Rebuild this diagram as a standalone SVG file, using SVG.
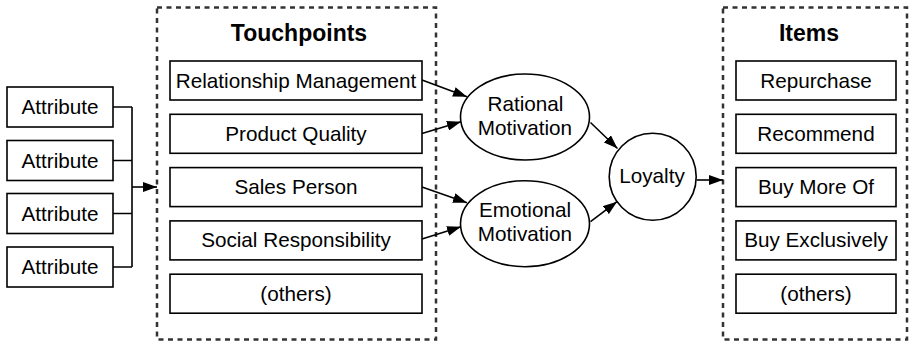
<svg xmlns="http://www.w3.org/2000/svg" width="909" height="344" viewBox="0 0 909 344">
<style>
.box{fill:#fff;stroke:#000;stroke-width:1.6}
.grp{fill:none;stroke:#333;stroke-width:2.5;stroke-dasharray:5 4.5}
.t{font-family:"Liberation Sans",Arial,sans-serif;font-size:20.7px;fill:#000;text-anchor:middle}
.h{font-family:"Liberation Sans",Arial,sans-serif;font-size:23px;font-weight:bold;fill:#000;text-anchor:middle}
.c{fill:none;stroke:#000;stroke-width:1.6}
</style>
<defs>
<marker id="ah" viewBox="0 0 14 10" refX="14" refY="5" markerWidth="14" markerHeight="10" markerUnits="userSpaceOnUse" orient="auto">
<path d="M0,0 L14,5 L0,10 z" fill="#000"/>
</marker>
</defs>
<g id="touchpoints">
<rect class="grp" x="157" y="7.5" width="279" height="332"/>
<text class="h" x="299" y="40.5">Touchpoints</text>
</g>
<g id="items">
<rect class="grp" x="723" y="7.5" width="184" height="332"/>
<text class="h" x="809" y="40.5">Items</text>
</g>
<g id="attr1"><rect class="box" x="7" y="87" width="106" height="40"/><text class="t" x="60" y="114">Attribute</text></g>
<g id="attr2"><rect class="box" x="7" y="140.5" width="106" height="40"/><text class="t" x="60" y="167.5">Attribute</text></g>
<g id="attr3"><rect class="box" x="7" y="193.5" width="106" height="40"/><text class="t" x="60" y="220.5">Attribute</text></g>
<g id="attr4"><rect class="box" x="7" y="247" width="106" height="40"/><text class="t" x="60" y="274">Attribute</text></g>
<g id="tp1"><rect class="box" x="170" y="61" width="252" height="39"/><text class="t" x="296" y="87.5">Relationship Management</text></g>
<g id="tp2"><rect class="box" x="170" y="114.3" width="252" height="39"/><text class="t" x="296" y="140.8">Product Quality</text></g>
<g id="tp3"><rect class="box" x="170" y="167.6" width="252" height="39"/><text class="t" x="296" y="194.1">Sales Person</text></g>
<g id="tp4"><rect class="box" x="170" y="220.9" width="252" height="39"/><text class="t" x="296" y="247.4">Social Responsibility</text></g>
<g id="tp5"><rect class="box" x="170" y="274.2" width="252" height="39"/><text class="t" x="296" y="300.7">(others)</text></g>
<g id="it1"><rect class="box" x="736" y="61" width="160" height="39"/><text class="t" x="816" y="87.5">Repurchase</text></g>
<g id="it2"><rect class="box" x="736" y="114.3" width="160" height="39"/><text class="t" x="816" y="140.8">Recommend</text></g>
<g id="it3"><rect class="box" x="736" y="167.6" width="160" height="39"/><text class="t" x="816" y="194.1">Buy More Of</text></g>
<g id="it4"><rect class="box" x="736" y="220.9" width="160" height="39"/><text class="t" x="816" y="247.4">Buy Exclusively</text></g>
<g id="it5"><rect class="box" x="736" y="274.2" width="160" height="39"/><text class="t" x="816" y="300.7">(others)</text></g>
<g id="rational"><ellipse class="box" cx="525" cy="117" rx="64.5" ry="43"/><text class="t" x="525.5" y="110.5">Rational</text><text class="t" x="525" y="135">Motivation</text></g>
<g id="emotional"><ellipse class="box" cx="525" cy="223.7" rx="64.5" ry="43"/><text class="t" x="525" y="217.3">Emotional</text><text class="t" x="525" y="241">Motivation</text></g>
<g id="loyalty"><circle class="box" cx="652.7" cy="176.7" r="43.5"/><text class="t" x="652" y="183">Loyalty</text></g>
<g id="connectors">
<path class="c" d="M113,107 H132 M113,160.5 H132 M113,213.5 H132 M113,267 H132 M132,107 V267"/>
<line class="c" x1="132" y1="187" x2="157" y2="187" marker-end="url(#ah)"/>
<line class="c" x1="422" y1="80" x2="467" y2="96.7" marker-end="url(#ah)"/>
<line class="c" x1="422" y1="133.5" x2="461" y2="121.7" marker-end="url(#ah)"/>
<line class="c" x1="422" y1="187" x2="467" y2="202.7" marker-end="url(#ah)"/>
<line class="c" x1="422" y1="239" x2="461" y2="226.7" marker-end="url(#ah)"/>
<line class="c" x1="590.5" y1="122.5" x2="617.5" y2="148.5" marker-end="url(#ah)"/>
<line class="c" x1="590.5" y1="221.7" x2="617" y2="201.7" marker-end="url(#ah)"/>
<line class="c" x1="696.5" y1="180" x2="723" y2="180" marker-end="url(#ah)"/>
</g>
</svg>
